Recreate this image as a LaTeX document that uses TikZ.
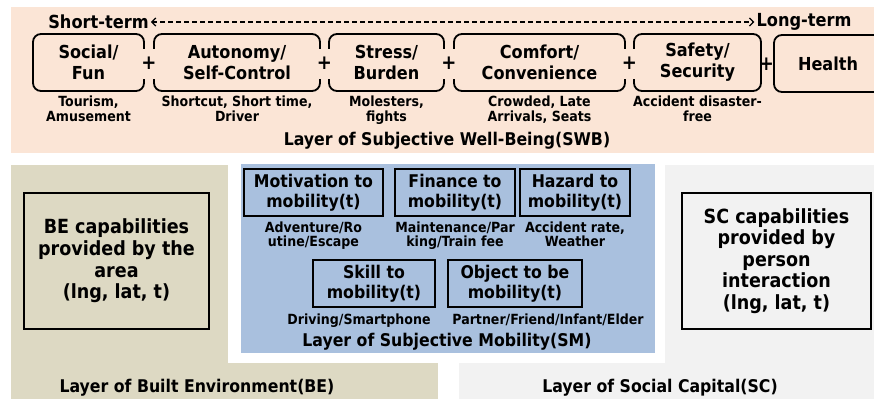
\documentclass[tikz,border=0pt]{standalone}
\usepackage{fontspec}
\setmainfont{DejaVuSansCondensed}[Extension=.ttf, BoldFont=*-Bold]
\usepackage{xcolor}
\usetikzlibrary{positioning, arrows.meta, calc}

\definecolor{swbfill}{HTML}{FBE5D6}
\definecolor{befill}{HTML}{DDD9C3}
\definecolor{smfill}{HTML}{A9C0DE}
\definecolor{scfill}{HTML}{F2F2F2}

\begin{document}
\begin{tikzpicture}[
    x=1pt, y=1pt,
    every node/.style={font=\bfseries, text=black},
    layer/.style={anchor=north west, inner sep=0pt, minimum width=#1},
    layer/.default=10pt,
    swb_box/.style={draw, line width=1.8pt, rounded corners=8pt, minimum height=57pt, inner sep=0pt, align=center, font=\fontsize{17.9}{21}\selectfont\bfseries},
    sm_box/.style={draw, line width=2.6pt, minimum height=47pt, inner sep=0pt, align=center, font=\fontsize{17.5}{20.5}\selectfont\bfseries},
    cap_box/.style={draw, line width=2.2pt, minimum height=136pt, inner sep=0pt, align=center, font=\fontsize{19.5}{21.6}\selectfont\bfseries},
    hint/.style={inner sep=0pt, align=center, font=\fontsize{14}{14.5}\selectfont\bfseries},
    caption/.style={inner sep=0pt, font=\fontsize{17.5}{18}\selectfont\bfseries},
    term/.style={inner sep=2pt, font=\fontsize{18}{18}\selectfont\bfseries},
    plus/.style={fill=swbfill, inner xsep=0pt, inner ysep=0pt, minimum height=30pt, font=\fontsize{20}{20}\selectfont\bfseries},
    time_flow/.style={{Straight Barb[length=4pt, width=8pt]}-{Straight Barb[length=4pt, width=8pt]}, line width=1.3pt, dash pattern=on 5pt off 3pt},
]
    \useasboundingbox (0,0) rectangle (874,-399);
    \clip (0,0) rectangle (874,-399);

    % --- Background layers ---
    \node[layer=863pt, minimum height=146pt, fill=swbfill] (swb_layer) at (11,-7) {};
    \node[layer=427pt, minimum height=234pt, fill=befill] (be_layer) at (11,-165) {};
    \node[layer=415pt, minimum height=234pt, fill=scfill] (sc_layer) at (459,-165) {};
    \node[layer=437pt, minimum height=205pt, fill=white] (sm_frame) at (228,-158) {};
    \node[layer=414pt, minimum height=189pt, fill=smfill] (sm_layer) at (241,-164) {};

    % 1. Subjective Well-Being (SWB)
    \node[term] (short_term) at (98.5,-22) {Short-term};
    \node[term] (long_term) at (804,-22) {Long-term};
    \draw[time_flow] (short_term.east) -- (long_term.west);

    \node[swb_box, minimum width=111pt] (social) at (88.5,-62.5) {Social/\\Fun};
    \node[swb_box, minimum width=166pt] (autonomy) at (237,-62.5) {Autonomy/\\Self-Control};
    \node[swb_box, minimum width=115pt] (stress) at (386.5,-62.5) {Stress/\\Burden};
    \node[swb_box, minimum width=171pt] (comfort) at (539.5,-62.5) {Comfort/\\Convenience};
    \node[swb_box, minimum width=127pt] (safety) at (697.5,-62.5) {Safety/\\Security};
    \node[swb_box, minimum width=108pt] (health) at (828,-63.5) {Health};

    % plus signs sit on top of the box borders
    \foreach \a/\b [count=\i] in {social/autonomy, autonomy/stress, stress/comfort, comfort/safety}
        \node[plus] (plus_\i) at ($(\a.east)!0.5!(\b.west)+(0,-1)$) {+};
    \node[plus, fill=none] (plus_5) at ($(safety.east)!0.5!(health.west)+(-1,-1)$) {+};

    \node[hint, below=4pt of social] (social_hint) {Tourism,\\Amusement};
    \node[hint, below=4pt of autonomy] (autonomy_hint) {Shortcut, Short time,\\Driver};
    \node[hint, below=4pt of stress] (stress_hint) {Molesters,\\fights};
    \node[hint, below=4pt of comfort] (comfort_hint) {Crowded, Late\\Arrivals, Seats};
    \node[hint, below=4pt of safety] (safety_hint) {Accident disaster-\\free};

    \node[caption] (swb_caption) at (447,-141) {Layer of Subjective Well-Being(SWB)};

    % 2. Built Environment (BE)
    \node[cap_box, minimum width=185pt] (be_cap) at (116.5,-261) {BE capabilities\\provided by the\\area\\(lng, lat, t)};
    \node[caption] (be_caption) at (197,-388) {Layer of Built Environment(BE)};

    % 3. Subjective Mobility (SM)
    \node[sm_box, minimum width=139pt] (motivation) at (313.5,-192.5) {Motivation to\\mobility(t)};
    \node[sm_box, minimum width=120pt] (finance) at (455,-192.5) {Finance to\\mobility(t)};
    \node[sm_box, minimum width=110pt] (hazard) at (575,-192.5) {Hazard to\\mobility(t)};
    \node[sm_box, minimum width=122pt] (skill) at (374,-283.5) {Skill to\\mobility(t)};
    \node[sm_box, minimum width=134pt] (object) at (515,-283.5) {Object to be\\mobility(t)};

    \node[hint, below=4pt of motivation] (motivation_hint) {Adventure/Ro\\utine/Escape};
    \node[hint, below=4pt of finance] (finance_hint) {Maintenance/Par\\king/Train fee};
    \node[hint, below=4pt of hazard] (hazard_hint) {Accident rate,\\Weather};
    \node[hint, below=5pt of skill, xshift=-15pt] (skill_hint) {Driving/Smartphone};
    \node[hint, below=5pt of object, xshift=33pt] (object_hint) {Partner/Friend/Infant/Elder};

    \node[caption] (sm_caption) at (447,-342) {Layer of Subjective Mobility(SM)};

    % 4. Social Capital (SC)
    \node[cap_box, minimum width=189pt] (sc_cap) at (776.5,-261) {SC capabilities\\provided by\\person\\interaction\\(lng, lat, t)};
    \node[caption] (sc_caption) at (660,-388) {Layer of Social Capital(SC)};

\end{tikzpicture}
\end{document}
